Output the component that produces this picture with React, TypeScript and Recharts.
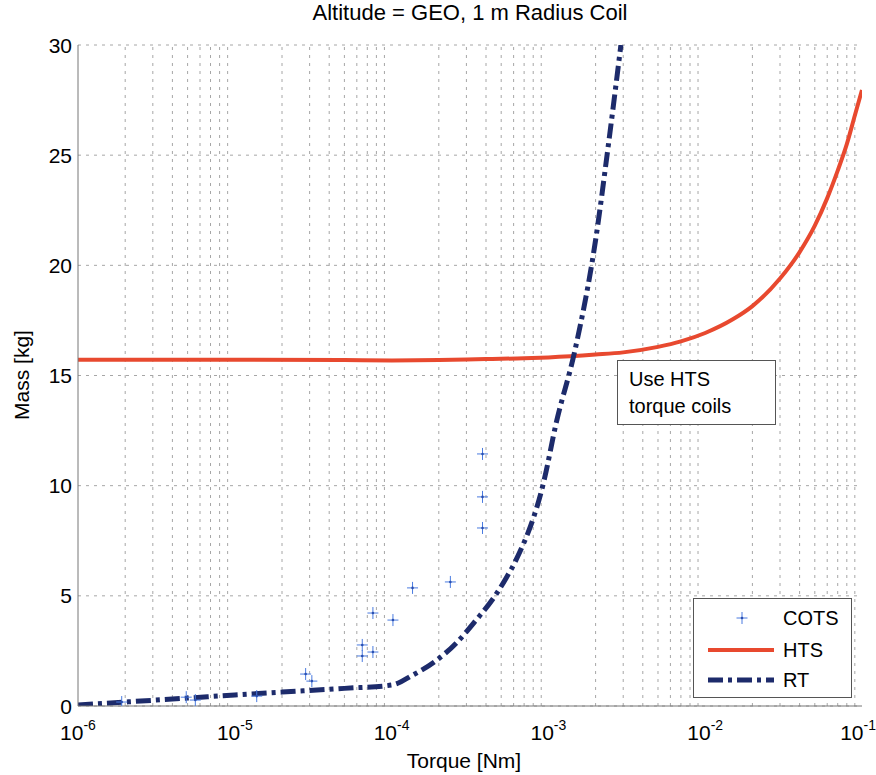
import React from 'react';
import {
  ComposedChart, Line, Scatter, XAxis, YAxis, CartesianGrid, ReferenceLine,
} from 'recharts';

// ---- data ----
const xTicks = [1e-6, 1e-5, 1e-4, 1e-3, 1e-2, 1e-1];
const yTicks = [0, 5, 10, 15, 20, 25, 30];
const minorMultipliers = [2, 3, 4, 5, 6, 7, 8, 9];

const cotsTorque = [1.9e-6, 4.9e-6, 5.6e-6, 1.38e-5, 2.83e-5, 3.1e-5, 6.5e-5, 6.5e-5, 7.6e-5, 7.6e-5, 1.02e-4, 1.36e-4, 2.37e-4, 3.8e-4, 3.8e-4, 3.8e-4];
const cotsMass = [0.18, 0.4, 0.27, 0.45, 1.45, 1.13, 2.77, 2.27, 2.45, 4.22, 3.9, 5.36, 5.63, 8.08, 9.49, 11.44];

const htsTorque = [1e-6, 1e-5, 5e-5, 1e-4, 2e-4, 4e-4, 7e-4, 1e-3, 2e-3, 3e-3, 5e-3, 7e-3, 1e-2, 1.5e-2, 2e-2, 3e-2, 4e-2, 5e-2, 6e-2, 7e-2, 8e-2, 9e-2, 1e-1];
const htsMass = [15.72, 15.72, 15.7, 15.68, 15.7, 15.75, 15.78, 15.82, 15.95, 16.05, 16.3, 16.55, 16.93, 17.55, 18.15, 19.4, 20.6, 21.8, 23.05, 24.3, 25.5, 26.8, 27.96];

const rtTorque = [1e-6, 2e-6, 5e-6, 1e-5, 2e-5, 5e-5, 1e-4, 1.37e-4, 1.88e-4, 2.58e-4, 3.46e-4, 4.53e-4, 5.37e-4, 6.22e-4, 9.4e-4, 1.12e-3, 1.47e-3, 2.0e-3, 2.39e-3, 2.9e-3];
const rtMass = [0.05, 0.18, 0.36, 0.5, 0.63, 0.8, 0.95, 1.41, 2.01, 2.85, 3.9, 4.96, 5.8, 6.63, 10.26, 12.83, 16.08, 21.15, 25.24, 30];

const cotsData = cotsTorque.map((t, i) => ({ t, m: cotsMass[i] }));
const htsData = htsTorque.map((t, i) => ({ t, m: htsMass[i] }));
const rtData = rtTorque.map((t, i) => ({ t, m: rtMass[i] }));
const minorGrid: number[] = [];
xTicks.slice(0, -1).forEach((d) => minorMultipliers.forEach((k) => minorGrid.push(d * k)));

const FONT = '"Liberation Sans", Arial, Helvetica, sans-serif';
const HTS_COLOR = '#e8492f';
const RT_COLOR = '#1d2b6b';
const COTS_COLOR = '#4a7be0';
const GRID = '#a6a6a6';
const RT_DASH = '15 5 4 5';

const XTick = (props: any) => {
  const { x, payload } = props;
  const exp = Math.round(Math.log10(payload.value));
  const last = payload.value === xTicks[xTicks.length - 1];
  return (
    <text x={last ? 876 : x} y={740} textAnchor={last ? 'end' : 'middle'} fontFamily={FONT} fontSize={21} fill="#000">
      <tspan>10</tspan>
      <tspan dy={-10} fontSize={14}>{String(exp)}</tspan>
    </text>
  );
};

const YTick = (props: any) => {
  const { y, payload } = props;
  return (
    <text x={72} y={y} dy={7.5} textAnchor="end" fontFamily={FONT} fontSize={21} fill="#000">
      {payload.value}
    </text>
  );
};

const Plus = (props: any) => {
  const { cx, cy } = props;
  if (cx == null || cy == null) return null;
  return (
    <g>
      <line x1={cx - 5.5} y1={cy} x2={cx + 5.5} y2={cy} stroke={COTS_COLOR} strokeWidth={1} />
      <line x1={cx} y1={cy - 6} x2={cx} y2={cy + 6} stroke={COTS_COLOR} strokeWidth={1} />
      <circle cx={cx} cy={cy} r={1.3} fill="#2a4fb0" />
    </g>
  );
};

const LegendBox = () => (
  <div
    style={{
      position: 'absolute', left: 693, top: 598, width: 159, height: 100, boxSizing: 'border-box',
      border: '1px solid #555', background: '#fff',
    }}
  >
    <svg width={157} height={98} style={{ position: 'absolute', left: 0, top: 0 }}>
      <g>
        <line x1={42.5} y1={19} x2={53.5} y2={19} stroke={COTS_COLOR} strokeWidth={1} />
        <line x1={48} y1={13} x2={48} y2={25} stroke={COTS_COLOR} strokeWidth={1} />
        <circle cx={48} cy={19} r={1.3} fill="#2a4fb0" />
      </g>
      <line x1={14} y1={51} x2={80} y2={51} stroke={HTS_COLOR} strokeWidth={4} />
      <line x1={14} y1={81} x2={80} y2={81} stroke={RT_COLOR} strokeWidth={5} strokeDasharray={RT_DASH} />
      <text x={89} y={26} fontFamily={FONT} fontSize={20} fill="#000">COTS</text>
      <text x={89} y={58} fontFamily={FONT} fontSize={20} fill="#000">HTS</text>
      <text x={89} y={88} fontFamily={FONT} fontSize={20} fill="#000">RT</text>
    </svg>
  </div>
);

export default function App() {
  return (
    <div style={{ position: 'absolute', left: 0, top: 0, width: 876, height: 775, background: '#fff', overflow: 'hidden' }}>
      <div
        style={{
          position: 'absolute', left: 0, width: 940, top: 0, textAlign: 'center',
          fontFamily: FONT, fontSize: 22, color: '#000', whiteSpace: 'nowrap',
        }}
      >
        Altitude = GEO, 1 m Radius Coil
      </div>
      <ComposedChart
        width={876}
        height={775}
        margin={{ top: 45, right: 14, bottom: 0, left: 0 }}
        style={{ position: 'absolute', left: 0, top: 0 }}
      >
        <CartesianGrid vertical={false} stroke={GRID} strokeDasharray="3 5" />
        {minorGrid.map((v) => (
          <ReferenceLine key={'g' + v} x={v} stroke={GRID} strokeDasharray="3 5" ifOverflow="hidden" />
        ))}
        <XAxis
          dataKey="t"
          type="number"
          scale="log"
          domain={[1e-6, 1e-1]}
          ticks={xTicks}
          allowDataOverflow
          height={69}
          stroke="#777"
          tickLine={false}
          tick={<XTick />}
          label={{
            content: () => (
              <text x={464} y={768} textAnchor="middle" fontFamily={FONT} fontSize={21} fill="#000">
                Torque [Nm]
              </text>
            ),
          }}
        />
        <XAxis xAxisId="top" orientation="top" type="number" scale="log" domain={[1e-6, 1e-1]} height={0} tick={false} tickLine={false} stroke="#777" />
        <YAxis
          dataKey="m"
          type="number"
          domain={[0, 30]}
          ticks={yTicks}
          allowDataOverflow
          width={78}
          stroke="#777"
          tickLine={false}
          tick={<YTick />}
          label={{
            content: () => (
              <text x={29} y={375} transform="rotate(-90 29 375)" textAnchor="middle" fontFamily={FONT} fontSize={21} fill="#000">
                Mass [kg]
              </text>
            ),
          }}
        />
        <YAxis yAxisId="right" orientation="right" type="number" domain={[0, 30]} width={0} tick={false} tickLine={false} stroke="#777" />
        <Scatter name="COTS" data={cotsData} dataKey="m" shape={<Plus />} isAnimationActive={false} />
        <Line name="HTS" data={htsData} dataKey="m" type="monotone" stroke={HTS_COLOR} strokeWidth={4} dot={false} isAnimationActive={false} />
        <Line name="RT" data={rtData} dataKey="m" type="monotone" stroke={RT_COLOR} strokeWidth={5} strokeDasharray={RT_DASH} dot={false} isAnimationActive={false} />
      </ComposedChart>
      <LegendBox />
      <div
        style={{
          position: 'absolute', left: 617, top: 360, width: 159, height: 65, boxSizing: 'border-box',
          border: '1px solid #555', background: '#fff', fontFamily: FONT, fontSize: 20, color: '#000',
          lineHeight: '27px', paddingLeft: 11, paddingTop: 5,
        }}
      >
        <div>Use HTS</div>
        <div>torque coils</div>
      </div>
    </div>
  );
}
